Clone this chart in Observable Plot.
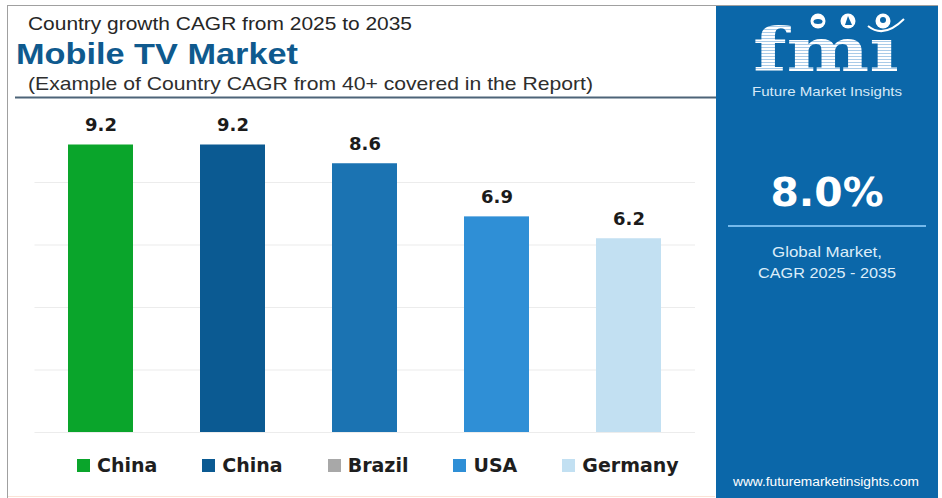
<!DOCTYPE html>
<html>
<head>
<meta charset="utf-8">
<script src="https://cdn.jsdelivr.net/npm/d3@7"></script>
<script src="https://cdn.jsdelivr.net/npm/@observablehq/plot@0.6"></script>
<style>
  html, body { margin: 0; padding: 0; background: #fff; }
  #wrap { position: relative; width: 942px; height: 498px; overflow: hidden; background: #fff; }
  #frame { position: absolute; left: 0; top: 0; }
  #chart { position: absolute; left: 0; top: 100px; }
  #legend {
    position: absolute; left: 77px; top: 453px; height: 24px;
    display: flex; align-items: center; gap: 45px;
    font-family: "DejaVu Sans", sans-serif; font-weight: bold; font-size: 19px; color: #1e1e1e;
  }
  #legend .item { display: flex; align-items: center; gap: 7px; white-space: nowrap; }
  #legend .sw { width: 13px; height: 13px; display: inline-block; }
</style>
</head>
<body>
<div id="wrap">
  <svg id="frame" width="942" height="498" xmlns="http://www.w3.org/2000/svg">
    <defs>
      <pattern id="stripes" width="4" height="3" patternUnits="userSpaceOnUse">
        <rect width="4" height="3" fill="#ffffff"/>
        <rect y="2" width="4" height="1" fill="#a9cbe8"/>
      </pattern>
    </defs>
    <!-- outer frame of the chart card -->
    <line x1="7" y1="5.5" x2="938" y2="5.5" stroke="#a0a0a0" stroke-width="1"/>
    <line x1="7.5" y1="5" x2="7.5" y2="498" stroke="#a0a0a0" stroke-width="1"/>
    <line x1="8" y1="496.5" x2="715" y2="496.5" stroke="#fbe3d6" stroke-width="1"/>

    <!-- header -->
    <text x="28" y="30" font-family="Liberation Sans, Arial, sans-serif" font-size="19" fill="#262626"
          textLength="384" lengthAdjust="spacingAndGlyphs">Country growth CAGR from 2025 to 2035</text>
    <text x="16" y="64" font-family="Liberation Sans, Arial, sans-serif" font-weight="bold" font-size="30" fill="#0f5a8e"
          textLength="282" lengthAdjust="spacingAndGlyphs">Mobile TV Market</text>
    <text x="28" y="90" font-family="Liberation Sans, Arial, sans-serif" font-size="19" fill="#2e2e2e"
          textLength="565" lengthAdjust="spacingAndGlyphs">(Example of Country CAGR from 40+ covered in the Report)</text>
    <line x1="15" y1="97.5" x2="716" y2="97.5" stroke="#4d6478" stroke-width="2"/>

    <!-- side panel -->
    <rect x="716" y="6" width="222" height="492" fill="#0b67a9"/>
    <text x="753" y="71" font-family="DejaVu Serif, serif" font-weight="bold" font-size="60"
          fill="url(#stripes)" textLength="146" lengthAdjust="spacingAndGlyphs">fmı</text>
    <circle cx="818" cy="21" r="7.5" fill="#ffffff"/>
    <ellipse cx="818" cy="21.5" rx="4.5" ry="2.5" fill="#0b67a9"/>
    <circle cx="848" cy="21" r="7.5" fill="#ffffff"/>
    <path d="M845 25 L848 16 L852 25 Z" fill="#0b67a9"/>
    <circle cx="883" cy="21" r="7.5" fill="#ffffff"/>
    <circle cx="883" cy="20" r="3" fill="#0b67a9"/>
    <path d="M868 26 Q 884 39 904 19" fill="none" stroke="#ffffff" stroke-width="2"/>
    <text x="752" y="96" font-family="Liberation Sans, Arial, sans-serif" font-size="13" fill="#d6e9f7"
          textLength="150" lengthAdjust="spacingAndGlyphs">Future Market Insights</text>

    <text x="827" y="206" text-anchor="middle" font-family="DejaVu Sans, sans-serif" font-weight="bold"
          font-size="39" fill="#ffffff" textLength="113" lengthAdjust="spacingAndGlyphs">8.0%</text>
    <line x1="728" y1="226" x2="926" y2="226" stroke="#74b9ec" stroke-width="2"/>
    <text x="827" y="257" text-anchor="middle" font-family="Liberation Sans, Arial, sans-serif" font-size="15"
          fill="#dcedf9" textLength="110" lengthAdjust="spacingAndGlyphs">Global Market,</text>
    <text x="827" y="278" text-anchor="middle" font-family="Liberation Sans, Arial, sans-serif" font-size="15"
          fill="#dcedf9" textLength="138" lengthAdjust="spacingAndGlyphs">CAGR 2025 - 2035</text>
    <text x="826" y="486" text-anchor="middle" font-family="Liberation Sans, Arial, sans-serif" font-size="12"
          fill="#ffffff" textLength="186" lengthAdjust="spacingAndGlyphs">www.futuremarketinsights.com</text>
  </svg>
  <div id="chart"></div>
  <div id="legend"></div>
</div>
<script>
// Country CAGR 2025–2035 (%)
const countries = ["China", "China", "Brazil", "USA", "Germany"];
const cagr = [9.2, 9.2, 8.6, 6.9, 6.2];
const gridTicks = [0, 2, 4, 6, 8];

// palette
const barColors = ["#0aa52b", "#0b5a92", "#1b73b2", "#2f8fd6", "#c2e0f2"];
const swatchColors = ["#0aa52b", "#0b5a92", "#a8a8a8", "#2f8fd6", "#c2e0f2"];

const slots = countries.map((_, i) => i);
const rows = slots.map(i => ({slot: i, country: countries[i], cagr: cagr[i]}));

const chart = Plot.plot({
  width: 715,
  height: 345,
  marginLeft: 34.5,
  marginRight: 20,
  marginTop: 19.5,
  marginBottom: 13,
  style: {background: "transparent", fontFamily: "DejaVu Sans, sans-serif"},
  x: {type: "band", domain: slots, paddingInner: 0.508, paddingOuter: 0.254, axis: null},
  y: {domain: [0, 10], axis: null},
  color: {type: "ordinal", domain: slots, range: barColors},
  marks: [
    Plot.ruleY(gridTicks, {stroke: "#ececec", strokeWidth: 1.2}),
    Plot.barY(rows, {x: "slot", y: "cagr", fill: "slot"}),
    Plot.text(rows, {
      x: "slot", y: "cagr", text: d => d.cagr.toFixed(1),
      dy: -20, fontSize: 18, fontWeight: "bold", fill: "#1b1b1b"
    })
  ]
});
document.getElementById("chart").appendChild(chart);

// legend row under the bars
const legend = d3.select("#legend");
rows.forEach((d, i) => {
  const item = legend.append("div").attr("class", "item");
  item.append("span").attr("class", "sw").style("background", swatchColors[i]);
  item.append("span").text(d.country);
});
</script>
</body>
</html>
